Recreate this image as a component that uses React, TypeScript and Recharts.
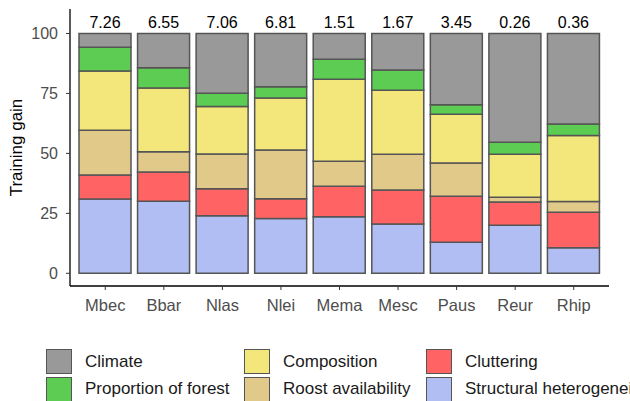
import React from "react";
import { BarChart, Bar, XAxis, YAxis, LabelList, Label } from "recharts";

// species and their total training gain (printed above each bar)
const categories = ["Mbec", "Bbar", "Nlas", "Nlei", "Mema", "Mesc", "Paus", "Reur", "Rhip"];
const gains = ["7.26", "6.55", "7.06", "6.81", "1.51", "1.67", "3.45", "0.26", "0.36"];

// relative contribution (%) of each variable group, bottom to top
const structural = [31.0, 30.0, 24.0, 22.8, 23.6, 20.6, 12.9, 20.0, 10.7];
const cluttering = [10.0, 12.2, 11.2, 8.3, 12.7, 14.1, 19.2, 9.7, 14.7];
const roost = [18.6, 8.5, 14.5, 20.3, 10.4, 14.9, 13.9, 2.0, 4.5];
const composition = [24.8, 26.6, 19.8, 21.7, 34.2, 26.7, 20.3, 17.9, 27.6];
const forest = [9.8, 8.4, 5.6, 4.7, 8.3, 8.5, 4.0, 5.0, 4.8];
const climate = [5.8, 14.3, 24.9, 22.2, 10.8, 15.2, 29.7, 45.4, 37.7];

const yTicks = [0, 25, 50, 75, 100];

const series = [
    { key: "structural", name: "Structural heterogeneity", values: structural, color: "#B1BEF3" },
    { key: "cluttering", name: "Cluttering", values: cluttering, color: "#FF6363" },
    { key: "roost", name: "Roost availability", values: roost, color: "#E1C98A" },
    { key: "composition", name: "Composition", values: composition, color: "#F3E77C" },
    { key: "forest", name: "Proportion of forest", values: forest, color: "#5DCC52" },
    { key: "climate", name: "Climate", values: climate, color: "#999999" },
];

// legend is filled column by column, two rows
const legendOrder = ["climate", "forest", "composition", "roost", "cluttering", "structural"];

const FONT = "'Liberation Sans', Arial, sans-serif";
const OUTLINE = "#555555";

const data = categories.map((c, i) => {
    const row: Record<string, any> = { species: c, gain: gains[i] };
    series.forEach(s => { row[s.key] = s.values[i]; });
    return row;
});

const LegendBlock: React.FC = () => {
    const cols = [46, 244, 426];
    return (
        <div style={{ position: "absolute", left: 0, top: 349, width: 630, height: 52 }}>
            {legendOrder.map((k, i) => {
                const s = series.find(x => x.key === k)!;
                const col = Math.floor(i / 2);
                const row = i % 2;
                return (
                    <div key={k} style={{ position: "absolute", left: cols[col], top: row * 27.7, display: "flex", alignItems: "center", whiteSpace: "nowrap" }}>
                        <div style={{ width: 26, height: 25, boxSizing: "border-box", background: s.color, border: `1.5px solid ${OUTLINE}` }} />
                        <span style={{ marginLeft: 13, fontSize: 17, color: "#1a1a1a" }}>{s.name}</span>
                    </div>
                );
            })}
        </div>
    );
};

export default function App() {
    return (
        <div style={{ position: "absolute", left: 0, top: 0, width: 630, height: 401, overflow: "hidden", background: "#fff", fontFamily: FONT }}>
            <BarChart
                width={630}
                height={320}
                data={data}
                margin={{ top: 9, right: 21, left: 0, bottom: 4 }}
                barSize={52}
            >
                <XAxis
                    dataKey="species"
                    padding={{ left: 6, right: 6 }}
                    height={30}
                    axisLine={{ stroke: "#000", strokeWidth: 1.3 }}
                    tickLine={{ stroke: "#333" }}
                    tickSize={4}
                    tickMargin={9}
                    tick={{ fill: "#4d4d4d", fontSize: 16.5, fontFamily: FONT }}
                />
                <YAxis
                    type="number"
                    domain={[-5.3, 110.2]}
                    allowDataOverflow
                    ticks={yTicks}
                    width={70}
                    axisLine={{ stroke: "#000", strokeWidth: 1.3 }}
                    tickLine={{ stroke: "#333" }}
                    tickSize={4}
                    tickMargin={8}
                    tick={{ fill: "#4d4d4d", fontSize: 16, fontFamily: FONT }}
                >
                    <Label
                        content={() => (
                            <text x={22} y={147.5} transform="rotate(-90, 22, 147.5)" textAnchor="middle" fontSize={17} fill="#000" fontFamily={FONT}>
                                Training gain
                            </text>
                        )}
                    />
                </YAxis>
                {series.map((s, idx) => (
                    <Bar
                        key={s.key}
                        dataKey={s.key}
                        name={s.name}
                        stackId="a"
                        fill={s.color}
                        stroke={OUTLINE}
                        strokeWidth={1.5}
                        isAnimationActive={false}
                    >
                        {idx === series.length - 1 && (
                            <LabelList dataKey="gain" position="top" offset={5} fill="#000" fontSize={16} fontFamily={FONT} />
                        )}
                    </Bar>
                ))}
            </BarChart>
            <LegendBlock />
        </div>
    );
}
